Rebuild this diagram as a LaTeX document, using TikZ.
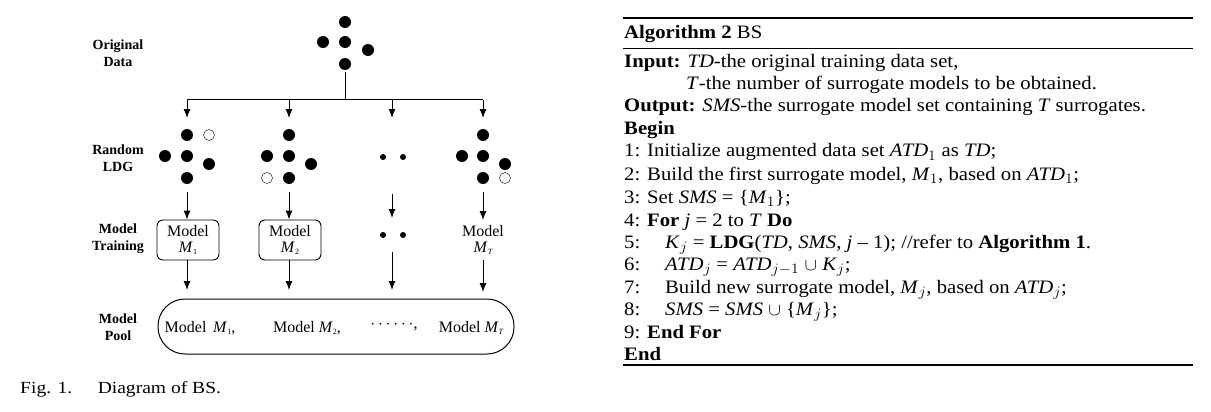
\documentclass[tikz,border=0pt]{standalone}
\usepackage{fontspec}
\setmainfont{Liberation Serif}
\usetikzlibrary{arrows.meta}
\newcommand{\sx}[1]{\scalebox{1.09}[1]{#1}}
\newcommand{\sbs}[1]{\raisebox{-0.3ex}{\fontsize{8}{8}\selectfont #1}}
\begin{document}
\begin{tikzpicture}[x=1pt,y=-1pt,
  dot/.style={circle,fill=black,inner sep=0pt,minimum size=12pt},
  odot/.style={circle,draw=black,thin,fill=white,inner sep=0pt,minimum size=11pt},
  sdot/.style={circle,fill=black,inner sep=0pt,minimum size=6pt},
  arr/.style={-{Latex[length=9pt,width=7pt]},line width=1pt},
  ln/.style={line width=1pt},
  lab/.style={font=\fontsize{14}{17}\selectfont\bfseries,align=center},
  mtxt/.style={font=\fontsize{16}{17}\selectfont,align=center},
  box/.style={draw,line width=0.9pt,rounded corners=6pt,minimum width=62pt,minimum height=40pt,inner sep=0pt},
  alg/.style={anchor=base west,font=\fontsize{19}{20}\selectfont,inner sep=0pt}]
\useasboundingbox (0,0) rectangle (1211,412);
% left labels
\node[lab] (l1) at (118,53) {Original\\Data};
\node[lab] (l2) at (118,158) {Random\\LDG};
\node[lab] (l3) at (118,239) {Model\\Training};
\node[lab] (l4) at (118,327) {Model\\Pool};
% original data
\node[dot] (o1) at (345,22) {};
\node[dot] (o2) at (323,42) {};
\node[dot] (o3) at (345,42) {};
\node[dot] (o4) at (368,50) {};
\node[dot] (o5) at (345,64) {};
\coordinate (split) at (345,100);
\coordinate (s1) at (187,100);
\coordinate (s4) at (483,100);
\draw[ln] (o5.south)++(0,2) -- (split);
\draw[ln] (s1) -- (s4);
\coordinate (t1) at (187,118);
\coordinate (t2) at (289,118);
\coordinate (t3) at (392,118);
\coordinate (t4) at (483,118);
\draw[arr] (s1) -- (t1);
\draw[arr] (289,100) coordinate (s2) -- (t2);
\draw[arr] (392,100) coordinate (s3) -- (t3);
\draw[arr] (s4) -- (t4);
% group 1
\node[dot] (a1) at (187,135) {}; \node[odot] (a2) at (209,135) {};
\node[dot] (a3) at (165,156) {}; \node[dot] (a4) at (187,156) {};
\node[dot] (a5) at (209,164) {}; \node[dot] (a6) at (187,178) {};
% group 2
\node[dot] (b1) at (289,135) {};
\node[dot] (b3) at (267,156) {}; \node[dot] (b4) at (289,156) {};
\node[dot] (b5) at (311,164) {}; \node[odot] (b2) at (267,178) {}; \node[dot] (b6) at (289,178) {};
% group 3
\node[sdot] (c1) at (383,157) {}; \node[sdot] (c2) at (403,157) {};
% group 4
\node[dot] (d1) at (483,135) {};
\node[dot] (d3) at (462,156) {}; \node[dot] (d4) at (483,156) {};
\node[dot] (d5) at (505,164) {}; \node[dot] (d6) at (483,178) {}; \node[odot] (d2) at (505,178) {};
% model training
\node[box,mtxt] (m1) at (188,240) {Model\\[-1pt]\textit{M}\sbs{1}};
\node[box,mtxt] (m2) at (290,240) {Model\\[-1pt]\textit{M}\sbs{2}};
\node[sdot] (c3) at (383,235) {}; \node[sdot] (c4) at (403,235) {};
\node[mtxt,minimum height=40pt,inner sep=0pt] (m4) at (483,240) {Model\\[-1pt]\textit{M}\sbs{\itshape T}};
\draw[arr] (187,192) -- (m1.north -| 187,0);
\draw[arr] (289,192) -- (m2.north -| 289,0);
\draw[arr] (392,194) -- (392,218) coordinate (t3b);
\draw[arr] (483,192) -- (483,220);
% pool
\node[draw,line width=1pt,rounded corners=27pt,minimum width=356pt,minimum height=55pt,inner sep=0pt] (pool) at (336,326.5) {};
\draw[arr] (m1.south -| 187,0) -- (187,290);
\draw[arr] (m2.south -| 289,0) -- (289,290);
\draw[arr] (392,252) -- (392,290);
\draw[arr] (483,260) -- (483,292);
\node[mtxt] (p1) at (200,328) {Model \,\textit{M}\sbs{1},};
\node[mtxt] (p2) at (307,328) {Model \textit{M}\sbs{2},};
\node[mtxt] (p3) at (394,326) {$\cdots\cdots$,};
\node[mtxt] (p4) at (471,328) {Model \textit{M}\sbs{\itshape T}};
% caption
\node[anchor=base west,font=\fontsize{17}{18}\selectfont,inner sep=0pt] (cap) at (20,393) {\scalebox{1.15}[1]{Fig. 1.\hspace{1.3em}Diagram of BS.}};
% algorithm
\draw[line width=1.3pt] (623,18) -- (1193,18);
\draw[line width=0.7pt] (623,48) -- (1193,48);
\draw[line width=1.3pt] (623,365) -- (1193,365);
\node[alg] (h) at (624,39) {\sx{\textbf{Algorithm 2} BS}};
\node[alg] (r1) at (624,67) {\sx{\textbf{Input:} \textit{TD}-the original training data set,}};
\node[alg] (r2) at (686,89) {\sx{\textit{T}-the number of surrogate models to be obtained.}};
\node[alg] (r3) at (624,111) {\sx{\textbf{Output:} \textit{SMS}-the surrogate model set containing \textit{T} surrogates.}};
\node[alg] (r4) at (624,134) {\sx{\textbf{Begin}}};
\node[alg] (r5) at (624,157) {\sx{1: Initialize augmented data set \textit{ATD}$_1$ as \textit{TD};}};
\node[alg] (r6) at (624,180) {\sx{2: Build the first surrogate model, \textit{M}$_1$, based on \textit{ATD}$_1$;}};
\node[alg] (r7) at (624,203) {\sx{3: Set \textit{SMS} = \{\textit{M}$_1$\};}};
\node[alg] (r8) at (624,226) {\sx{4: \textbf{For} \textit{j} = 2 to \textit{T} \textbf{Do}}};
\node[alg] (r9) at (624,248) {\sx{5:\hspace{1.2em}\textit{K}$_j$ = \textbf{LDG}(\textit{TD}, \textit{SMS}, \textit{j} – 1); //refer to \textbf{Algorithm 1}.}};
\node[alg] (r10) at (624,270) {\sx{6:\hspace{1.2em}\textit{ATD}$_j$ = \textit{ATD}$_{j-1}$ $\cup$ \textit{K}$_j$;}};
\node[alg] (r11) at (624,293) {\sx{7:\hspace{1.2em}Build new surrogate model, \textit{M}$_j$, based on \textit{ATD}$_j$;}};
\node[alg] (r12) at (624,315) {\sx{8:\hspace{1.2em}\textit{SMS} = \textit{SMS} $\cup$ \{\textit{M}$_j$\};}};
\node[alg] (r13) at (624,338) {\sx{9: \textbf{End For}}};
\node[alg] (r14) at (624,360) {\sx{\textbf{End}}};
\end{tikzpicture}
\end{document}
